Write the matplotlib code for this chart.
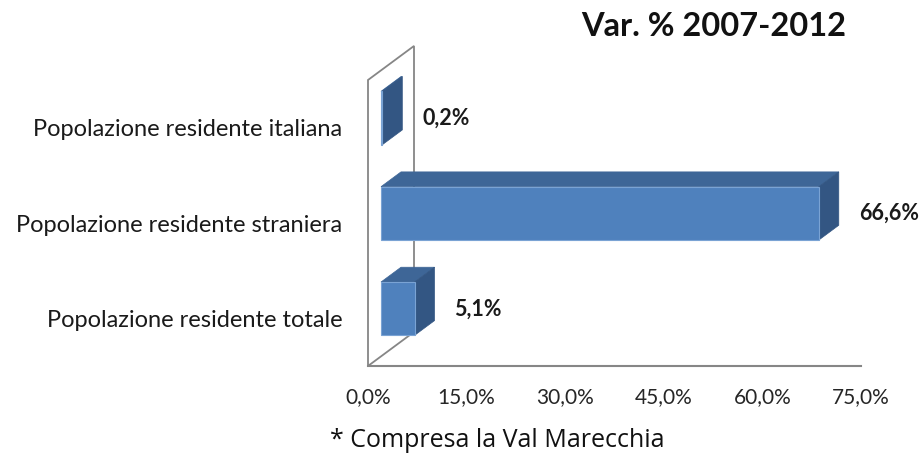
import matplotlib
matplotlib.use('Agg')
import matplotlib.pyplot as plt
from matplotlib.patches import Polygon

categories = ['Popolazione residente totale',
              'Popolazione residente straniera',
              'Popolazione residente italiana']
values = [5.1, 66.6, 0.2]
value_labels = ['5,1%', '66,6%', '0,2%']
tick_values = [0, 15, 30, 45, 60, 75]
title = 'Var. % 2007-2012'
footnote = '* Compresa la Val Marecchia'

plt.rcParams['font.family'] = ['Lato', 'DejaVu Sans']

W, H = 919, 454
fig = plt.figure(figsize=(W / 100, H / 100), dpi=100)
ax_l, ax_b, ax_w, ax_h = 368 / W, 1 - 366 / H, 493 / W, 286 / H
ax = fig.add_axes([ax_l, ax_b, ax_w, ax_h])
XMAX = 75
ax.set_xlim(0, XMAX)
ax.set_ylim(-0.5, len(categories) - 0.5)

# oblique projection of depth (in pixels) into data units
PX_X = ax_w * W / XMAX
PX_Y = ax_h * H / len(categories)
SLOPE = 0.74


def P(x, y, d):
    return (x + d / PX_X, y + SLOPE * d / PX_Y)


WALL_D = 46
D0, D1 = 13, 33
HALF = 0.28
front_c = '#4f81bd'
top_c = '#3e6697'
side_c = '#335683'
edge_c = '#868686'

y0, y1 = -0.5, len(categories) - 0.5
wall = Polygon([P(0, y0, 0), P(0, y1, 0), P(0, y1, WALL_D), P(0, y0, WALL_D)],
               closed=True, facecolor='white', edgecolor=edge_c, lw=1.3,
               clip_on=False, zorder=1)
ax.add_patch(wall)

for i, v in enumerate(values):
    front = Polygon([P(0, i - HALF, D0), P(v, i - HALF, D0),
                     P(v, i + HALF, D0), P(0, i + HALF, D0)],
                    closed=True, facecolor=front_c, edgecolor='#7aa3d4',
                    lw=0.8, clip_on=False, zorder=3)
    top = Polygon([P(0, i + HALF, D0), P(v, i + HALF, D0),
                   P(v, i + HALF, D1), P(0, i + HALF, D1)],
                  closed=True, facecolor=top_c, edgecolor=top_c, lw=0.5,
                  clip_on=False, zorder=3)
    side = Polygon([P(v, i - HALF, D0), P(v, i + HALF, D0),
                    P(v, i + HALF, D1), P(v, i - HALF, D1)],
                   closed=True, facecolor=side_c, edgecolor=side_c, lw=0.5,
                   clip_on=False, zorder=3)
    for p in (top, side, front):
        ax.add_patch(p)
    ax.annotate(value_labels[i], xy=P(v, i, D0), xytext=(40 * 0.72, 0),
                textcoords='offset points', ha='left', va='center',
                fontsize=15.5, fontweight='bold', color='#1a1a1a',
                annotation_clip=False)

for s in ('top', 'right', 'left'):
    ax.spines[s].set_visible(False)
ax.spines['bottom'].set_color(edge_c)
ax.spines['bottom'].set_linewidth(1.5)
ax.spines['bottom'].set_zorder(2)

ax.set_xticks(tick_values)
ax.set_xticklabels([f'{t:.1f}%'.replace('.', ',') for t in tick_values])
ax.set_yticks(range(len(categories)))
ax.set_yticklabels(categories)
ax.tick_params(axis='x', length=0, pad=15, labelsize=15, labelcolor='#262626')
ax.tick_params(axis='y', length=0, pad=18.5, labelsize=17, labelcolor='#1a1a1a')
ax.patch.set_visible(False)

fig.text(714 / W, 1 - 27 / H, title, ha='center', va='center',
         fontsize=23.5, fontweight='bold', color='#111111')
fig.text(330 / W, 1 - 447 / H, footnote, ha='left', va='baseline',
         fontsize=18, color='#111111', family=['Open Sans', 'DejaVu Sans'])

fig.savefig('out.png', dpi=100, facecolor='white')
